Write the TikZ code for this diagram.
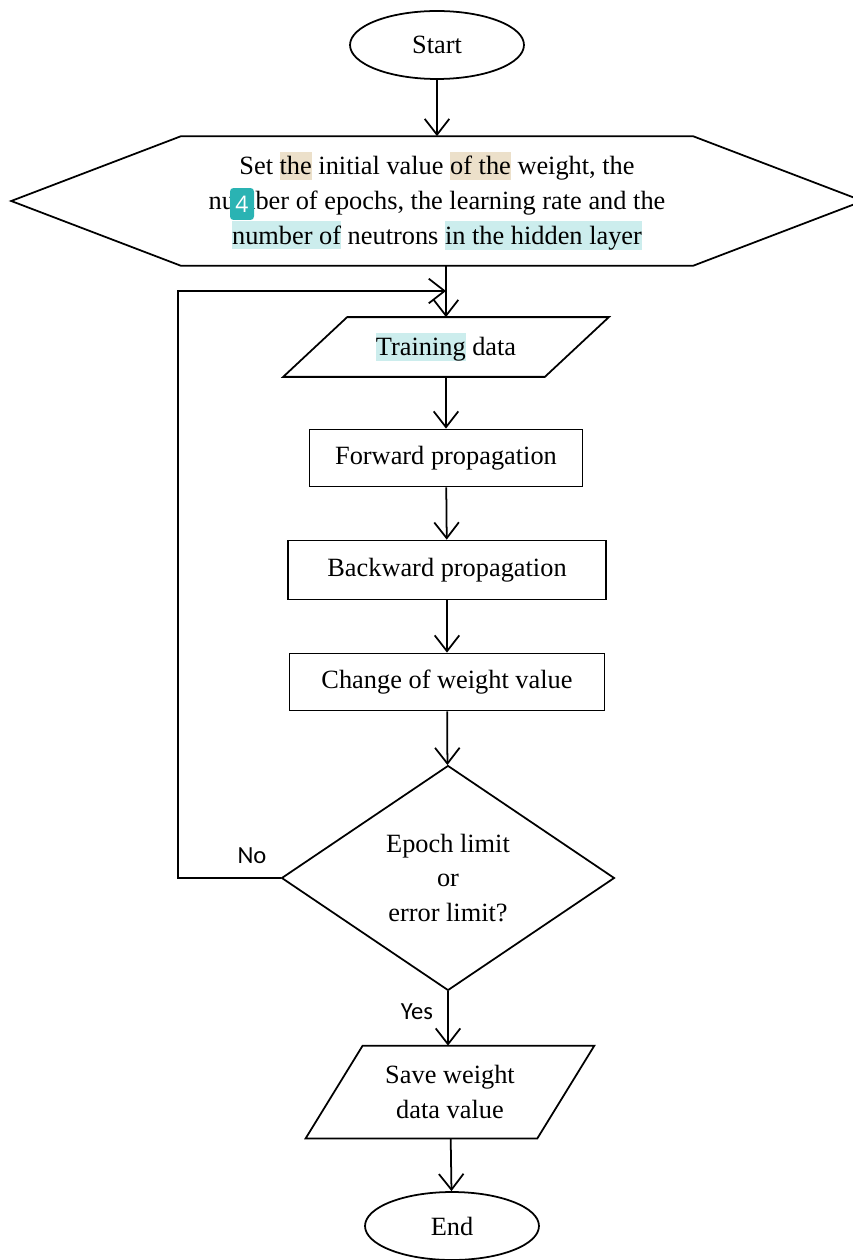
\documentclass[tikz,border=0pt]{standalone}
\usepackage{fontspec}
\setmainfont{Liberation Serif}
\newfontfamily\answerfont{Carlito}
\newfontfamily\badgefont{Open Sans}
\usetikzlibrary{shapes.geometric,arrows.meta}
\definecolor{hltan}{HTML}{ECE0CA}
\definecolor{hlcyan}{HTML}{CCEDED}
\definecolor{badgeteal}{HTML}{2AB3B3}
\newcommand{\hlbrown}[1]{{\setlength{\fboxsep}{0pt}\colorbox{hltan}{\rule[-2.8pt]{0pt}{16pt}#1}}}
\newcommand{\hlblue}[1]{{\setlength{\fboxsep}{0pt}\colorbox{hlcyan}{\rule[-2.8pt]{0pt}{16pt}#1}}}
\tikzset{base/.style = {draw=black, line width=1pt, inner sep=0pt, align=center,
                        font=\fontsize{15}{19.8}\selectfont},
         terminal/.style = {base, ellipse, minimum width=3.48cm, minimum height=1.36cm},
         process/.style = {base, rectangle, minimum height=1.14cm},
         io/.style = {base, rectangle, draw=none},
         outline/.style = {line width=1pt},
         decision/.style = {base, diamond, aspect=1.48, minimum width=6.66cm, minimum height=4.5cm},
         arrow/.style = {-{Straight Barb[length=9pt,width=14pt]}, line width=1pt},
         answer/.style = {font=\answerfont\fontsize{14}{14}\selectfont},
         badge/.style = {fill=badgeteal, rounded corners=2pt, text=white, inner sep=0pt,
                         minimum width=0.48cm, minimum height=0.64cm,
                         font=\badgefont\fontsize{13}{13}\selectfont}}

\begin{document}
\begin{tikzpicture}[x=0.02cm, y=-0.02cm]
        \useasboundingbox (0,0) rectangle (852,1260);

        \node [terminal] (start) at (437,45) {Start};

        \node [io, minimum width=10.2cm, minimum height=2.56cm] (init) at (437,201)
            {Set \hlbrown{the} initial value \hlbrown{of the} weight, the\\
             number of epochs, the learning rate and the\\
             \hlblue{number of} neutrons \hlblue{in the hidden layer}};
        \draw [outline] (init.north west) -- (init.north east) -- ([xshift=3.4cm]init.east)
            -- (init.south east) -- (init.south west) -- ([xshift=-3.4cm]init.west) -- cycle;
        \node [badge] (note) at (242,204) {4};

        % input / output boxes
        \node [io, minimum width=5.2cm, minimum height=1.16cm] (train) at (446,347) {\hlblue{Training} data};
        \draw [outline] ([xshift=0.64cm]train.north west) -- ([xshift=0.64cm]train.north east)
            -- ([xshift=-0.64cm]train.south east) -- ([xshift=-0.64cm]train.south west) -- cycle;

        \node [process, minimum width=5.46cm] (forward) at (446,458) {Forward propagation};
        \node [process, minimum width=6.36cm, minimum height=1.18cm] (backward) at (447,570) {Backward propagation};
        \node [process, minimum width=6.3cm] (update) at (447,682) {Change of weight value};
        \node [decision] (check) at (448,878) {Epoch limit\\ or\\ error limit?};

        \node [io, minimum width=4.6cm, minimum height=1.82cm] (save) at (450,1092) {Save weight\\ data value};
        \draw [outline] ([xshift=0.57cm]save.north west) -- ([xshift=0.57cm]save.north east)
            -- ([xshift=-0.57cm]save.south east) -- ([xshift=-0.57cm]save.south west) -- cycle;

        \node [terminal] (end) at (452,1226) {End};

        \node [answer] (no) at (252,856) {No};
        \node [answer] (yes) at (417,1012) {Yes};

        \coordinate (merge) at (446,291);
        \coordinate (back) at (178,291);

        \draw [arrow] (start) -- (init.north -| start);
        \draw [arrow] (train.north |- init.south) -- (train.north);
        \draw [arrow] (train) -- (forward);
        \draw [arrow] (forward) -- (backward);
        \draw [arrow] (backward) -- (update);
        \draw [arrow] (update) -- (check);
        \draw [arrow] (check.south) -- (save.north -| check.south);
        \draw [arrow] (save) -- (end);
        \draw [arrow] (check.west) -| (back) -- (merge);
    \end{tikzpicture}
\end{document}
